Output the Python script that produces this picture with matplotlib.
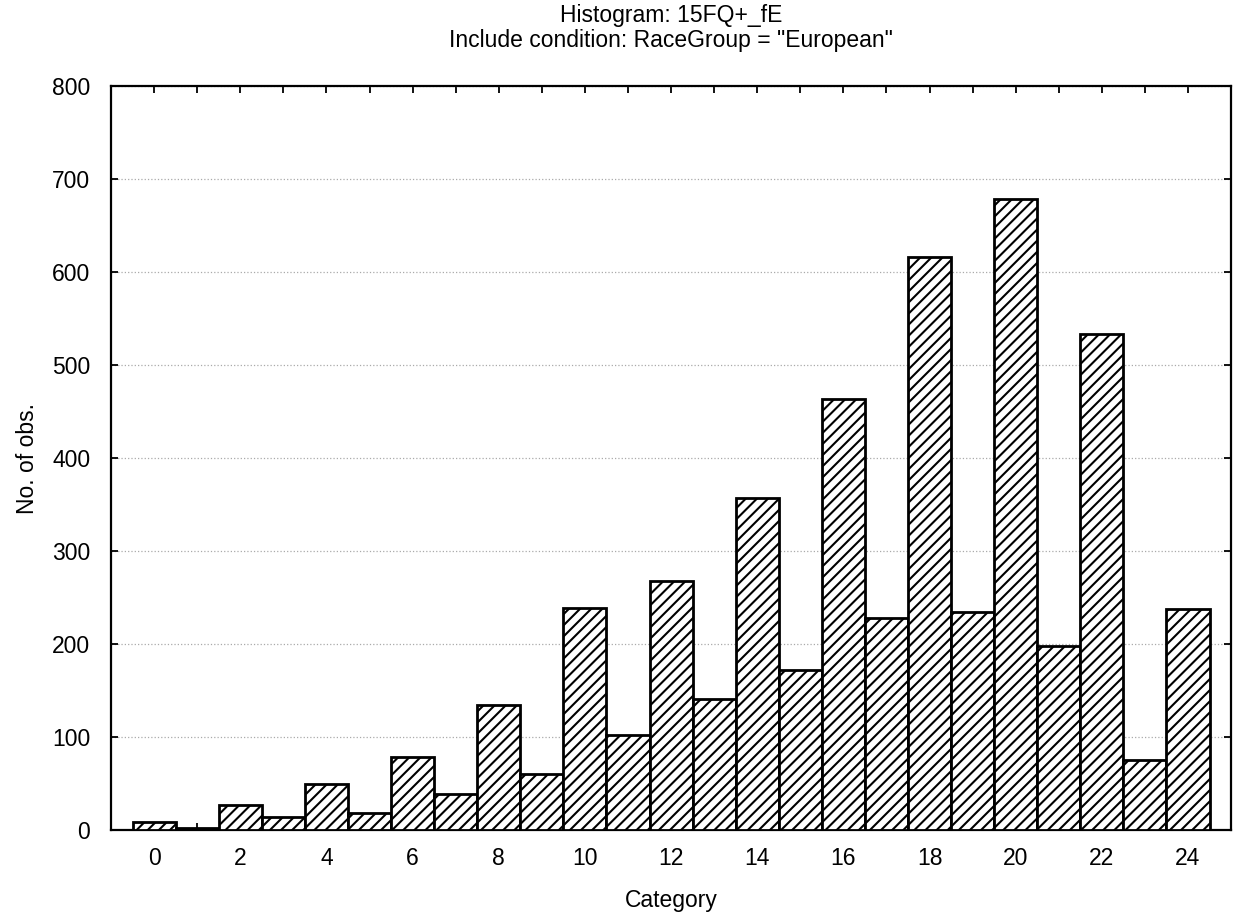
import numpy as np
import matplotlib.pyplot as plt
from matplotlib.ticker import MultipleLocator

plt.rcParams['font.family'] = ['Liberation Sans', 'DejaVu Sans']
plt.rcParams['hatch.linewidth'] = 1.5

# histogram counts per category
categories = np.arange(0, 25)
counts = [9, 2, 27, 14, 50, 18, 78, 39, 134, 60, 239, 102, 268, 141, 357,
          172, 463, 228, 616, 234, 679, 198, 533, 75, 238]

title = 'Histogram: 15FQ+_fE\nInclude condition: RaceGroup = "European"'
fs = 16.5

fig = plt.figure(figsize=(12.34, 9.21), dpi=100)
ax = fig.add_axes([0.09, 0.0988, 0.9076, 0.8078])

ax.bar(categories, counts, width=1.0, color='white', edgecolor='black',
       linewidth=2.0, hatch='///', zorder=3)

ax.set_xlim(-1, 25)
ax.set_ylim(0, 800)
ax.xaxis.set_major_locator(MultipleLocator(2))
ax.xaxis.set_minor_locator(MultipleLocator(1))
ax.yaxis.set_major_locator(MultipleLocator(100))

ax.tick_params(which='both', direction='in', top=True, right=True,
               length=5, width=1.3, labelsize=fs)
ax.tick_params(axis='x', pad=12)
ax.tick_params(axis='y', pad=15)
for s in ax.spines.values():
    s.set_linewidth(1.6)

ax.grid(axis='y', linestyle=':', color='#aaaaaa', linewidth=0.9, zorder=0)

ax.set_xlabel('Category', fontsize=fs, labelpad=14)
ax.set_ylabel('No. of obs.', fontsize=fs, labelpad=9)
ax.set_title(title, fontsize=fs, linespacing=1.12, pad=28)

fig.savefig('out.png', dpi=100)
